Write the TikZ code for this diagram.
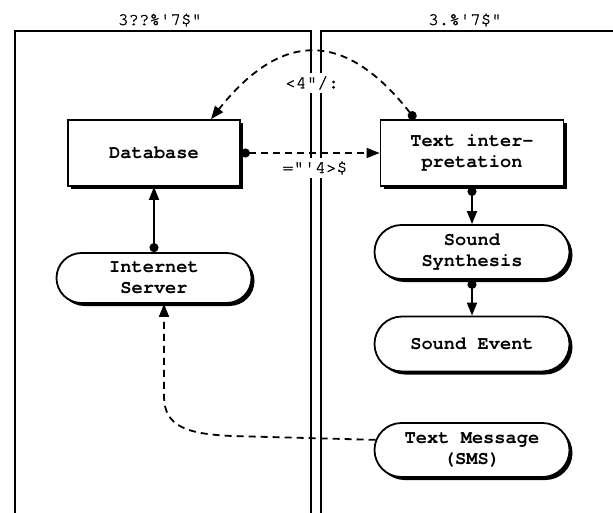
\documentclass[tikz,border=0pt]{standalone}
\usepackage{fontspec}
\newfontfamily\cour[Ligatures=TeXOff]{TeX Gyre Cursor}
\newfontfamily\courmed[Ligatures=TeXOff,FakeBold=1.5]{TeX Gyre Cursor}
\usetikzlibrary{arrows.meta,shapes.misc,shadows}
\begin{document}
\begin{tikzpicture}[x=1pt,y=-1pt,
  lw/.style={line width=1.8pt},
  ntext/.style={font=\cour\bfseries\fontsize{18.7}{21}\selectfont, align=center},
  shad/.style={drop shadow={shadow xshift=3pt,shadow yshift=-3pt,opacity=1,fill=black}},
  boxnode/.style={ntext, draw, lw, fill=white, shad, rectangle, inner sep=0pt},
  pill/.style={ntext, draw, lw, fill=white, shad, rounded rectangle, minimum width=195pt, inner sep=0pt},
  flow/.style={lw, {Circle[length=9pt]}-{Triangle[length=13pt,width=10pt]}},
  dline/.style={lw, dash pattern=on 7pt off 5pt},
  dflow/.style={flow, dash pattern=on 7pt off 5pt},
  hdr/.style={font=\courmed\fontsize{17.5}{20}\selectfont, anchor=base},
  lab/.style={font=\courmed\fontsize{18}{20}\selectfont, fill=white, inner xsep=1pt, inner ysep=3pt},
  frameline/.style={line width=1.8pt}
]
\useasboundingbox (0,0) rectangle (613,513);
% lanes
\draw[frameline] (15,513) -- (15,31) -- (311,31) -- (311,513);
\draw[frameline] (615,31) -- (321,31) -- (321,513);
\node[hdr] (h1) at (160,25) {3??\%'7\$"};
\node[hdr] (h2) at (465,25) {3.\%'7\$"};
% labels
\node[lab] (l1) at (312,83) {<4"/:};
\node[lab] (l2) at (315,168) {="'4>\$};
% nodes
\node[boxnode, minimum width=172pt, minimum height=66pt] (db) at (154,153) {Database};
\node[boxnode, minimum width=183pt, minimum height=66pt] (ti) at (472,153) {Text inter-\\pretation};
\node[pill, minimum height=50pt] (is) at (154,278) {Internet\\Server};
\node[pill, minimum height=54pt] (ss) at (472,252) {Sound\\Synthesis};
\node[pill, minimum height=55pt] (se) at (472,344) {Sound Event};
\node[pill, minimum height=54pt] (tm) at (472,450) {Text Message\\(SMS)};
% connectors
\draw[flow] (is.north) -- (db.south);
\draw[flow] (ti.south) -- (ss.north);
\draw[flow] (ss.south) -- (se.north);
\draw[dflow] (db.east) -- (ti.west);
\draw[dflow] ([xshift=-57pt]ti.north) .. controls (345,30) and (282,30) .. ([xshift=57pt]db.north);
\draw[dline,-{Triangle[length=13pt,width=10pt]}] (tm.174) -- (232,436) .. controls (186,434) and (164,426) .. (164,396) -- ([xshift=10pt]is.south);
\end{tikzpicture}
\end{document}
